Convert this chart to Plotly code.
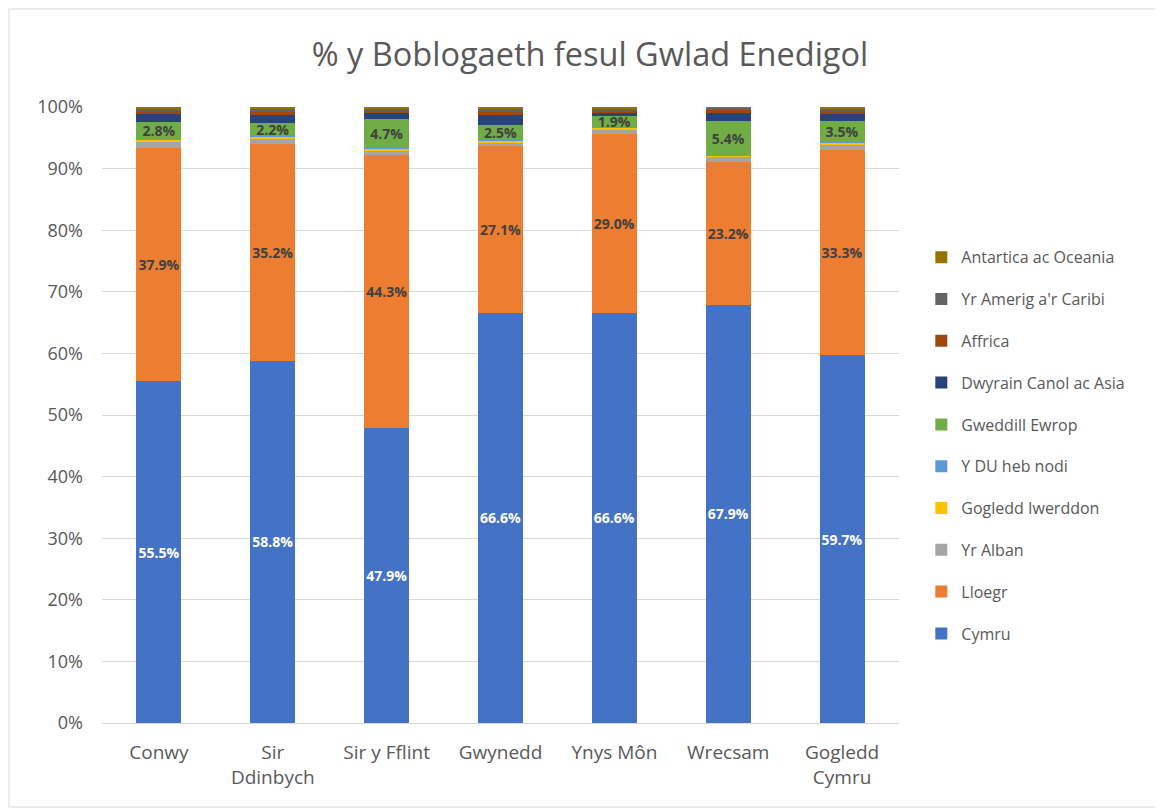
import plotly.graph_objects as go

categories = ["Conwy", "Sir<br>Ddinbych", "Sir y Fflint", "Gwynedd", "Ynys Môn", "Wrecsam", "Gogledd<br>Cymru"]

cymru = [55.5, 58.8, 47.9, 66.6, 66.6, 67.9, 59.7]
lloegr = [37.9, 35.2, 44.3, 27.1, 29.0, 23.2, 33.3]
yr_alban = [1.0, 0.9, 0.8, 0.6, 0.7, 0.8, 0.9]
gogledd_iwerddon = [0.3, 0.3, 0.3, 0.3, 0.3, 0.3, 0.3]
y_du_heb_nodi = [0.05, 0.05, 0.05, 0.05, 0.05, 0.05, 0.05]
gweddill_ewrop = [2.8, 2.2, 4.7, 2.5, 1.9, 5.4, 3.5]
dwyrain_canol_asia = [1.3, 1.25, 0.9, 1.6, 0.45, 1.4, 1.1]
affrica = [0.5, 0.5, 0.45, 0.5, 0.4, 0.5, 0.5]
yr_amerig_caribi = [0.4, 0.5, 0.35, 0.45, 0.35, 0.3, 0.4]
antartica_oceania = [0.25, 0.3, 0.25, 0.3, 0.25, 0.15, 0.25]

series = [
    ("Cymru", cymru, "#4472C4", "white"),
    ("Lloegr", lloegr, "#ED7D31", "#404040"),
    ("Yr Alban", yr_alban, "#A5A5A5", None),
    ("Gogledd Iwerddon", gogledd_iwerddon, "#FFC000", None),
    ("Y DU heb nodi", y_du_heb_nodi, "#5B9BD5", None),
    ("Gweddill Ewrop", gweddill_ewrop, "#70AD47", "#404040"),
    ("Dwyrain Canol ac Asia", dwyrain_canol_asia, "#264478", None),
    ("Affrica", affrica, "#9E480E", None),
    ("Yr Amerig a'r Caribi", yr_amerig_caribi, "#636363", None),
    ("Antartica ac Oceania", antartica_oceania, "#997300", None),
]

font_family = "Open Sans, Noto Sans, sans-serif"

W, H = 1155, 801
L, T, R, B = 94, 99, 264, 86
PW = W - L - R
PH = H - T - B

fig = go.Figure()
for i, (name, vals, color, lblcolor) in enumerate(series):
    if lblcolor:
        kw = dict(
            text=[f"{v:.1f}%" for v in vals],
            textposition="inside",
            insidetextanchor="middle",
            textangle=0,
            constraintext="none",
            textfont=dict(color=lblcolor, size=14, family=font_family, weight="bold"),
        )
    else:
        kw = dict(textposition="none")
    fig.add_trace(go.Bar(
        name=name, x=categories, y=[v / 100 for v in vals],
        marker=dict(color=color, line=dict(width=0)),
        legendgroup=name,
        legendrank=1000 - i,
        hoverinfo="name+y",
        **kw,
    ))

fig.update_layout(
    barmode="stack",
    bargap=0.605,
    width=W, height=H,
    paper_bgcolor="white", plot_bgcolor="white",
    margin=dict(l=L, r=R, t=T, b=B),
    title=dict(text="% y Boblogaeth fesul Gwlad Enedigol", x=582 / W, xanchor="center",
               xref="container", y=1 - 47 / H, yref="container", yanchor="middle",
               font=dict(size=32.5, color="#595959", family=font_family)),
    font=dict(family=font_family, color="#595959", size=18),
    legend=dict(traceorder="grouped", x=1.028, xanchor="left", y=0.45, yanchor="middle",
                font=dict(size=16, color="#595959"), tracegroupgap=18,
                itemwidth=30, bgcolor="rgba(0,0,0,0)"),
    showlegend=True,
)
fig.update_yaxes(range=[0, 1.0], tickformat=".0%", dtick=0.1, showgrid=True,
                 gridcolor="#D9D9D9", gridwidth=1, zeroline=False, showline=False,
                 ticks="", tickfont=dict(size=18, color="#595959"), ticklabelstandoff=18)
fig.update_xaxes(showline=True, linecolor="#D9D9D9", linewidth=1, ticks="",
                 tickfont=dict(size=19, color="#595959"), ticklabelstandoff=12)
fig.add_shape(type="rect", xref="paper", yref="paper",
              x0=(1 - L) / PW, x1=(W - 2 - L) / PW,
              y0=-(H - 2 - T - PH) / PH, y1=1 + (T - 1) / PH,
              line=dict(color="#D9D9D9", width=1), layer="below")

fig.write_html("out.html")
